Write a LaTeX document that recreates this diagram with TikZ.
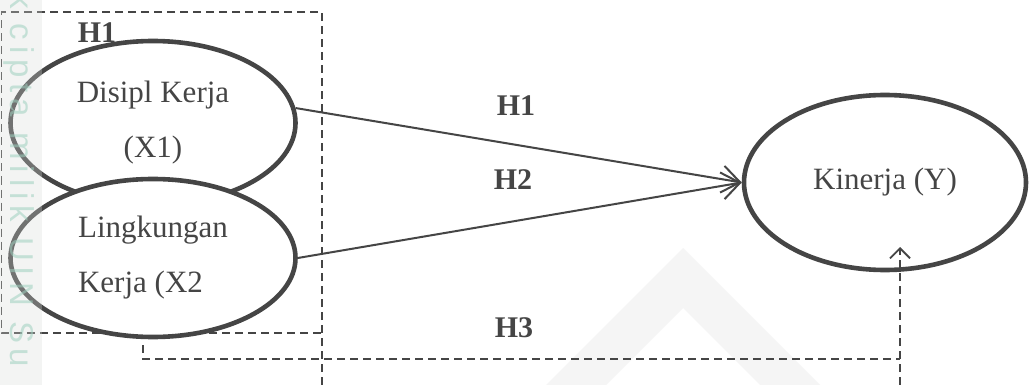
\documentclass[tikz,border=0pt]{standalone}
\usepackage{fontspec}
\setmainfont{Liberation Serif}
\newfontfamily\wmfont[LetterSpace=18]{Liberation Sans}
\usetikzlibrary{arrows.meta,shapes.geometric}
\definecolor{ink}{HTML}{454545}
\definecolor{wmteal}{HTML}{9FD0BF}
\definecolor{wmgray}{HTML}{D8DCDA}
\definecolor{wmshade}{HTML}{F5F5F5}
\begin{document}
\begin{tikzpicture}[x=1pt,y=-1pt,
  latent/.style={ellipse, draw=ink, line width=4.6pt, fill=white, inner sep=0pt, text=ink,
                 font=\fontsize{31}{55}\selectfont},
  hyp/.style={text=ink, inner sep=0pt, font=\fontsize{30}{36}\selectfont\bfseries},
  effect/.style={draw=ink, line width=2pt,
                 -{Straight Barb[length=18pt,width=27pt,line width=2pt]}},
  dashline/.style={draw=ink, line width=1.6pt, dash pattern=on 8pt off 5pt}]

% canvas
\useasboundingbox (0,0) rectangle (1030,385);
\fill[white] (0,0) rectangle (1030,385);

% faint logo shape in the background
\fill[wmshade, even odd rule] (546,385) -- (683,248) -- (820,385) -- cycle
                              (606,385) -- (683,308) -- (760,385) -- cycle;

% dashed frame around the independent variables
\draw[dashline] (322,385) -- (322,12) -- (1.5,12) -- (1.5,333) -- (322,333);

\node[hyp] (h1top) at (97,33) {H1};

% latent variables
\node[latent, minimum width=285pt, minimum height=164pt, align=center] (x1) at (153,123)
  {Disipl Kerja\\(X1)};
\node[latent, minimum width=285pt, minimum height=158pt, align=left] (x2) at (153,258)
  {Lingkungan\\Kerja (X2};
\node[latent, minimum width=282pt, minimum height=175pt] (ky) at (885,182.5)
  {Kinerja (Y)};

% direct effects
\draw[effect] (x1.6) -- (ky.west);
\draw[effect] (x2.0) -- (ky.west);
\node[hyp] (h1) at (516,106) {H1};
\node[hyp] (h2) at (513,180) {H2};

% simultaneous effect
\coordinate (h3start) at (143,345);
\coordinate (h3corner) at (900,359);
\coordinate (h3base) at (900,385);
\coordinate (h3tip) at (900,247);
\draw[dashline] (h3start) |- (h3corner);
\draw[dashline, -{Straight Barb[length=10pt,width=20pt,line width=1.8pt]}] (h3base) -- (h3tip);
\node[hyp] (h3) at (514,328) {H3};

% side watermark strip
\fill[wmgray, opacity=0.3] (0,0) rectangle (42,385);
\node[rotate=-90, anchor=base west, inner sep=0pt, text=wmteal, opacity=0.55,
      font=\wmfont\fontsize{33}{33}\selectfont] (wm) at (10,-8) {k cipta milik UIN Su};
\end{tikzpicture}
\end{document}
